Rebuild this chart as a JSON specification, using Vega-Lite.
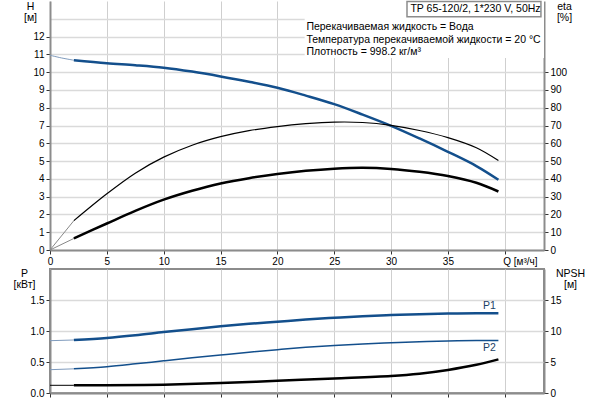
{
  "$schema": "https://vega.github.io/schema/vega-lite/v6.json",
  "padding": {"left": 12, "top": 0, "right": 5, "bottom": 5},
  "bounds": "flush",
  "spacing": 19,
  "background": "white",
  "config": {
    "font": "Liberation Sans",
    "axis": {
      "labelFont": "Liberation Sans", "labelFontSize": 10, "labelColor": "#000",
      "titleFont": "Liberation Sans", "titleFontSize": 10.5, "titleFontWeight": "normal", "titleColor": "#000",
      "domainColor": "#8c8c8c", "domainWidth": 2, "tickColor": "#333", "tickSize": 4, "labelPadding": 2,
      "gridColor": "#cfcfcf", "gridWidth": 1
    },
    "text": {"font": "Liberation Sans", "fontSize": 10.5, "color": "#000"}
  },
  "datasets": {
    "head": [
      {"Q": 0, "H": 10.95, "part": "lead"},
      {"Q": 1, "H": 10.8, "part": "lead"},
      {"Q": 2.1, "H": 10.67, "part": "lead"},
      {"Q": 2.1, "H": 10.67, "part": "main"},
      {"Q": 5, "H": 10.5, "part": "main"},
      {"Q": 7.5, "H": 10.39, "part": "main"},
      {"Q": 10, "H": 10.25, "part": "main"},
      {"Q": 12.5, "H": 10.03, "part": "main"},
      {"Q": 15, "H": 9.76, "part": "main"},
      {"Q": 17.5, "H": 9.46, "part": "main"},
      {"Q": 20, "H": 9.12, "part": "main"},
      {"Q": 22.5, "H": 8.68, "part": "main"},
      {"Q": 25, "H": 8.2, "part": "main"},
      {"Q": 27.5, "H": 7.61, "part": "main"},
      {"Q": 30, "H": 6.98, "part": "main"},
      {"Q": 32.5, "H": 6.27, "part": "main"},
      {"Q": 35, "H": 5.52, "part": "main"},
      {"Q": 37.5, "H": 4.72, "part": "main"},
      {"Q": 39.44, "H": 3.95, "part": "main"}
    ],
    "eta": [
      {"Q": 0, "eta": 0, "curve": "eta1", "part": "lead"},
      {"Q": 2.1, "eta": 16.5, "curve": "eta1", "part": "lead"},
      {"Q": 0, "eta": 0, "curve": "eta2", "part": "lead"},
      {"Q": 2.1, "eta": 6.5, "curve": "eta2", "part": "lead"},
      {"Q": 2.1, "eta": 16.5, "curve": "eta1", "part": "main"},
      {"Q": 5, "eta": 31.6, "curve": "eta1", "part": "main"},
      {"Q": 7.5, "eta": 43.2, "curve": "eta1", "part": "main"},
      {"Q": 10, "eta": 52.2, "curve": "eta1", "part": "main"},
      {"Q": 12.5, "eta": 58.9, "curve": "eta1", "part": "main"},
      {"Q": 15, "eta": 63.7, "curve": "eta1", "part": "main"},
      {"Q": 17.5, "eta": 67.1, "curve": "eta1", "part": "main"},
      {"Q": 20, "eta": 69.4, "curve": "eta1", "part": "main"},
      {"Q": 22.5, "eta": 71.0, "curve": "eta1", "part": "main"},
      {"Q": 25, "eta": 71.9, "curve": "eta1", "part": "main"},
      {"Q": 27.5, "eta": 71.7, "curve": "eta1", "part": "main"},
      {"Q": 30, "eta": 70.1, "curve": "eta1", "part": "main"},
      {"Q": 32.5, "eta": 67.2, "curve": "eta1", "part": "main"},
      {"Q": 35, "eta": 63.2, "curve": "eta1", "part": "main"},
      {"Q": 37.5, "eta": 57.5, "curve": "eta1", "part": "main"},
      {"Q": 39.44, "eta": 50.3, "curve": "eta1", "part": "main"},
      {"Q": 2.1, "eta": 6.5, "curve": "eta2", "part": "main"},
      {"Q": 5, "eta": 14.9, "curve": "eta2", "part": "main"},
      {"Q": 7.5, "eta": 22.0, "curve": "eta2", "part": "main"},
      {"Q": 10, "eta": 28.3, "curve": "eta2", "part": "main"},
      {"Q": 12.5, "eta": 33.3, "curve": "eta2", "part": "main"},
      {"Q": 15, "eta": 37.4, "curve": "eta2", "part": "main"},
      {"Q": 17.5, "eta": 40.4, "curve": "eta2", "part": "main"},
      {"Q": 20, "eta": 42.7, "curve": "eta2", "part": "main"},
      {"Q": 22.5, "eta": 44.5, "curve": "eta2", "part": "main"},
      {"Q": 25, "eta": 45.7, "curve": "eta2", "part": "main"},
      {"Q": 27.5, "eta": 46.2, "curve": "eta2", "part": "main"},
      {"Q": 30, "eta": 45.6, "curve": "eta2", "part": "main"},
      {"Q": 32.5, "eta": 44.0, "curve": "eta2", "part": "main"},
      {"Q": 35, "eta": 41.6, "curve": "eta2", "part": "main"},
      {"Q": 37.5, "eta": 37.8, "curve": "eta2", "part": "main"},
      {"Q": 39.44, "eta": 32.9, "curve": "eta2", "part": "main"}
    ],
    "power": [
      {"Q": 0, "P": 0.844, "curve": "P1", "part": "lead"},
      {"Q": 2.1, "P": 0.855, "curve": "P1", "part": "lead"},
      {"Q": 0, "P": 0.376, "curve": "P2", "part": "lead"},
      {"Q": 2.1, "P": 0.39, "curve": "P2", "part": "lead"},
      {"Q": 2.1, "P": 0.855, "curve": "P1", "part": "main"},
      {"Q": 5, "P": 0.887, "curve": "P1", "part": "main"},
      {"Q": 7.5, "P": 0.93, "curve": "P1", "part": "main"},
      {"Q": 10, "P": 0.982, "curve": "P1", "part": "main"},
      {"Q": 12.5, "P": 1.03, "curve": "P1", "part": "main"},
      {"Q": 15, "P": 1.075, "curve": "P1", "part": "main"},
      {"Q": 17.5, "P": 1.115, "curve": "P1", "part": "main"},
      {"Q": 20, "P": 1.15, "curve": "P1", "part": "main"},
      {"Q": 22.5, "P": 1.185, "curve": "P1", "part": "main"},
      {"Q": 25, "P": 1.213, "curve": "P1", "part": "main"},
      {"Q": 27.5, "P": 1.238, "curve": "P1", "part": "main"},
      {"Q": 30, "P": 1.257, "curve": "P1", "part": "main"},
      {"Q": 32.5, "P": 1.272, "curve": "P1", "part": "main"},
      {"Q": 35, "P": 1.282, "curve": "P1", "part": "main"},
      {"Q": 37.5, "P": 1.287, "curve": "P1", "part": "main"},
      {"Q": 39.44, "P": 1.287, "curve": "P1", "part": "main"},
      {"Q": 2.1, "P": 0.39, "curve": "P2", "part": "main"},
      {"Q": 5, "P": 0.425, "curve": "P2", "part": "main"},
      {"Q": 7.5, "P": 0.47, "curve": "P2", "part": "main"},
      {"Q": 10, "P": 0.519, "curve": "P2", "part": "main"},
      {"Q": 12.5, "P": 0.567, "curve": "P2", "part": "main"},
      {"Q": 15, "P": 0.613, "curve": "P2", "part": "main"},
      {"Q": 17.5, "P": 0.658, "curve": "P2", "part": "main"},
      {"Q": 20, "P": 0.699, "curve": "P2", "part": "main"},
      {"Q": 22.5, "P": 0.737, "curve": "P2", "part": "main"},
      {"Q": 25, "P": 0.768, "curve": "P2", "part": "main"},
      {"Q": 27.5, "P": 0.792, "curve": "P2", "part": "main"},
      {"Q": 30, "P": 0.811, "curve": "P2", "part": "main"},
      {"Q": 32.5, "P": 0.826, "curve": "P2", "part": "main"},
      {"Q": 35, "P": 0.838, "curve": "P2", "part": "main"},
      {"Q": 37.5, "P": 0.845, "curve": "P2", "part": "main"},
      {"Q": 39.44, "P": 0.848, "curve": "P2", "part": "main"}
    ],
    "npsh": [
      {"Q": 0, "NPSH": 1.24, "part": "lead"},
      {"Q": 2.1, "NPSH": 1.24, "part": "lead"},
      {"Q": 2.1, "NPSH": 1.24, "part": "main"},
      {"Q": 5, "NPSH": 1.25, "part": "main"},
      {"Q": 10, "NPSH": 1.34, "part": "main"},
      {"Q": 15, "NPSH": 1.6, "part": "main"},
      {"Q": 20, "NPSH": 1.98, "part": "main"},
      {"Q": 25, "NPSH": 2.35, "part": "main"},
      {"Q": 30, "NPSH": 2.75, "part": "main"},
      {"Q": 32.5, "NPSH": 3.12, "part": "main"},
      {"Q": 35, "NPSH": 3.72, "part": "main"},
      {"Q": 37.5, "NPSH": 4.55, "part": "main"},
      {"Q": 39.44, "NPSH": 5.43, "part": "main"}
    ],
    "panels": [
      {"kind": "bg", "Q": 22.4, "Q2": 43.45, "H": 10.8, "H2": 14},
      {"kind": "box", "Q": 31.4, "Q2": 43.18, "H": 13.12, "H2": 13.97}
    ],
    "notes": [
      {"kind": "model", "label": "TP 65-120/2, 1*230 V, 50Hz", "Q": 31.7, "H": 13.57},
      {"kind": "info", "label": "Перекачиваемая жидкость = Вода", "Q": 22.55, "H": 12.556},
      {"kind": "info", "label": "Температура перекачиваемой жидкости = 20 °C", "Q": 22.55, "H": 11.815},
      {"kind": "info", "label": "Плотность = 998.2 кг/м³", "Q": 22.55, "H": 11.11}
    ]
  },
  "vconcat": [
    {
      "width": 494,
      "height": 249,
      "view": {"stroke": null},
      "encoding": {
        "x": {
          "field": "Q", "type": "quantitative",
          "scale": {"domain": [0, 43.45], "nice": false, "zero": false},
          "axis": {
            "values": [0, 5, 10, 15, 20, 25, 30, 35, 40],
            "title": null,
            "labelExpr": "datum.value == 40 ? 'Q [м³/ч]' : datum.label",
            "labelAlign": {"condition": {"test": "datum.value == 40", "value": "left"}, "value": "center"},
            "labelOffset": {"condition": {"test": "datum.value == 40", "value": -2}, "value": 0},
            "grid": true
          }
        }
      },
      "layer": [
        {
          "encoding": {
            "y": {
              "field": "H", "type": "quantitative",
              "scale": {"domain": [0, 14], "nice": false, "zero": false},
              "axis": {
                "orient": "left",
                "values": [0, 1, 2, 3, 4, 5, 6, 7, 8, 9, 10, 11, 12, 13],
                "labelExpr": "datum.value > 12 ? '' : datum.label",
                "tickOpacity": {"condition": {"test": "datum.value > 12", "value": 0}, "value": 1},
                "grid": true,
                "gridWidth": 1.5,
                "gridColor": "#dadada",
                "title": ["H", "[м]"],
                "titleAngle": 0, "titleAlign": "center", "titleBaseline": "alphabetic",
                "titleX": -20, "titleY": 8, "titleLineHeight": 11.5
              }
            }
          },
          "layer": [
            {
              "data": {"name": "panels"},
              "transform": [{"filter": "datum.kind == 'bg'"}],
              "mark": {"type": "rect", "fill": "white", "stroke": null},
              "encoding": {"x2": {"field": "Q2"}, "y2": {"field": "H2"}}
            },
            {
              "data": {"name": "panels"},
              "transform": [{"filter": "datum.kind == 'box'"}],
              "mark": {"type": "rect", "fill": "white", "stroke": "#8c8c8c", "strokeWidth": 1.5},
              "encoding": {"x2": {"field": "Q2"}, "y2": {"field": "H2"}}
            },
            {
              "data": {"name": "notes"},
              "mark": {"type": "text", "align": "left", "baseline": "middle", "fontSize": 10.5},
              "encoding": {"text": {"field": "label"}}
            },
            {
              "data": {"name": "head"},
              "transform": [{"filter": "datum.part == 'lead'"}],
              "mark": {"type": "line", "color": "#7f9bbd", "strokeWidth": 1, "interpolate": "catmull-rom"},
              "encoding": {}
            },
            {
              "data": {"name": "head"},
              "transform": [{"filter": "datum.part == 'main'"}],
              "mark": {"type": "line", "color": "#134f8c", "strokeWidth": 2.5, "interpolate": "catmull-rom"},
              "encoding": {}
            }
          ]
        },
        {
          "data": {"name": "eta"},
          "encoding": {
            "y": {
              "field": "eta", "type": "quantitative",
              "scale": {"domain": [0, 140], "nice": false, "zero": false},
              "axis": {
                "orient": "right",
                "values": [0, 10, 20, 30, 40, 50, 60, 70, 80, 90, 100],
                "grid": false,
                "title": ["eta", "[%]"],
                "titleAngle": 0, "titleAlign": "center", "titleBaseline": "alphabetic",
                "titleX": 20, "titleY": 8, "titleLineHeight": 11.5
              }
            },
            "detail": {"field": "curve"}
          },
          "layer": [
            {
              "transform": [{"filter": "datum.part == 'lead'"}],
              "mark": {"type": "line", "color": "#888888", "strokeWidth": 1}
            },
            {
              "transform": [{"filter": "datum.part == 'main' && datum.curve == 'eta1'"}],
              "mark": {"type": "line", "color": "#000000", "strokeWidth": 1.2, "interpolate": "catmull-rom"}
            },
            {
              "transform": [{"filter": "datum.part == 'main' && datum.curve == 'eta2'"}],
              "mark": {"type": "line", "color": "#000000", "strokeWidth": 2.5, "interpolate": "catmull-rom"}
            }
          ]
        }
      ],
      "resolve": {"scale": {"y": "independent"}, "axis": {"y": "independent"}}
    },
    {
      "width": 494,
      "height": 124,
      "view": {"stroke": "#8c8c8c", "strokeWidth": 2},
      "encoding": {
        "x": {
          "field": "Q", "type": "quantitative",
          "scale": {"domain": [0, 43.45], "nice": false, "zero": false},
          "axis": {
            "values": [0, 5, 10, 15, 20, 25, 30, 35, 40],
            "title": null,
            "labels": false,
            "grid": true
          }
        }
      },
      "layer": [
        {
          "data": {"name": "power"},
          "encoding": {
            "y": {
              "field": "P", "type": "quantitative",
              "scale": {"domain": [0, 2], "nice": false, "zero": false},
              "axis": {
                "orient": "left",
                "values": [0, 0.5, 1, 1.5],
                "format": ".1f",
                "grid": true,
                "gridWidth": 1.5,
                "gridColor": "#dadada",
                "title": ["P", "[кВт]"],
                "titleAngle": 0, "titleAlign": "center", "titleBaseline": "alphabetic",
                "titleX": -26, "titleY": 7, "titleLineHeight": 11.5
              }
            },
            "detail": {"field": "curve"}
          },
          "layer": [
            {
              "transform": [{"filter": "datum.part == 'lead'"}],
              "mark": {"type": "line", "color": "#7f9bbd", "strokeWidth": 1}
            },
            {
              "transform": [{"filter": "datum.part == 'main' && datum.curve == 'P1'"}],
              "mark": {"type": "line", "color": "#134f8c", "strokeWidth": 2.5, "interpolate": "catmull-rom"}
            },
            {
              "transform": [{"filter": "datum.part == 'main' && datum.curve == 'P2'"}],
              "mark": {"type": "line", "color": "#134f8c", "strokeWidth": 1.5, "interpolate": "catmull-rom"}
            },
            {
              "transform": [{"filter": "datum.part == 'main' && datum.curve == 'P1' && datum.Q == 39.44"}],
              "mark": {"type": "text", "align": "center", "baseline": "middle", "dx": -9, "dy": -7, "color": "#1c3f66", "fontSize": 10.5},
              "encoding": {"text": {"field": "curve"}}
            },
            {
              "transform": [{"filter": "datum.part == 'main' && datum.curve == 'P2' && datum.Q == 39.44"}],
              "mark": {"type": "text", "align": "center", "baseline": "middle", "dx": -9, "dy": 8, "color": "#1c3f66", "fontSize": 10.5},
              "encoding": {"text": {"field": "curve"}}
            }
          ]
        },
        {
          "data": {"name": "npsh"},
          "encoding": {
            "y": {
              "field": "NPSH", "type": "quantitative",
              "scale": {"domain": [0, 20], "nice": false, "zero": false},
              "axis": {
                "orient": "right",
                "values": [0, 5, 10, 15],
                "grid": false,
                "title": ["NPSH", "[м]"],
                "titleAngle": 0, "titleAlign": "center", "titleBaseline": "alphabetic",
                "titleX": 26, "titleY": 7, "titleLineHeight": 11.5
              }
            }
          },
          "layer": [
            {
              "transform": [{"filter": "datum.part == 'lead'"}],
              "mark": {"type": "line", "color": "#000000", "strokeWidth": 1}
            },
            {
              "transform": [{"filter": "datum.part == 'main'"}],
              "mark": {"type": "line", "color": "#000000", "strokeWidth": 2.5, "interpolate": "catmull-rom"}
            }
          ]
        }
      ],
      "resolve": {"scale": {"y": "independent"}, "axis": {"y": "independent"}}
    }
  ]
}
